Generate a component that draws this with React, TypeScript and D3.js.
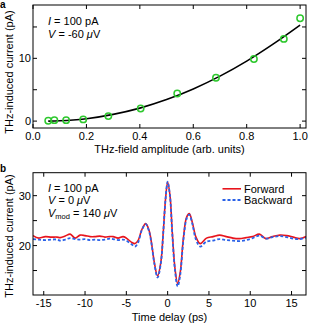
import React from "react";
import * as d3 from "d3";

// Panel a: THz-induced current vs THz-field amplitude
const ampX = [0.057, 0.08, 0.124, 0.188, 0.282, 0.403, 0.54, 0.685, 0.827, 0.939, 1.0];
const ampCurrent = [0.05, 0.15, 0.15, 0.27, 0.8, 2.0, 4.4, 6.9, 9.9, 13.1, 16.4];
const fitAmp = [0.057, 0.1, 0.15, 0.2, 0.3, 0.4, 0.5, 0.6, 0.7, 0.8, 0.9, 1.0];
const fitCurrent = [0.0, 0.05, 0.17, 0.38, 1.07, 2.07, 3.43, 5.13, 7.17, 9.56, 12.3, 15.3];
const ampTicks = [0.0, 0.2, 0.4, 0.6, 0.8, 1.0];
const currentTicksA = [0, 5, 10, 15];
const currentLabelsA = [0, 10];

// Panel b: THz-induced current vs time delay
const delay = [-16.3, -15.6, -14.8, -14.1, -13.4, -13.0, -12.4, -11.8, -11.2, -10.6, -10.0, -9.4, -8.8, -8.2, -7.6, -7.0, -6.6, -6.0, -5.4, -5.0, -4.4, -3.95, -3.55, -3.15, -2.66, -2.26, -1.94, -1.62, -1.22, -0.82, -0.53, -0.25, 0, 0.28, 0.56, 0.89, 1.21, 1.53, 1.9, 2.3, 2.62, 2.98, 3.43, 3.95, 4.7, 5.5, 6.3, 7.1, 7.9, 8.7, 9.5, 10.3, 11.1, 11.9, 12.7, 13.6, 14.4, 15.2, 16.0, 16.75];
const forward = [22.0, 21.5, 21.8, 21.7, 21.7, 21.6, 21.9, 22.3, 21.5, 22.1, 22.0, 21.8, 21.8, 21.9, 21.7, 21.8, 21.8, 21.5, 21.8, 21.5, 20.7, 20.4, 21.1, 23.1, 24.4, 23.1, 20.4, 16.7, 13.9, 16.7, 22.7, 29.4, 32.7, 30.1, 22.7, 15.4, 12.4, 14.7, 21.4, 25.7, 26.4, 24.7, 21.7, 20.4, 21.5, 21.8, 22.1, 21.8, 21.5, 21.4, 21.6, 21.8, 22.3, 21.4, 21.8, 22.1, 22.0, 21.7, 21.4, 21.8];
const backward = [21.3, 21.2, 21.1, 21.2, 21.2, 21.0, 21.2, 21.5, 21.3, 21.2, 21.3, 21.1, 21.2, 21.1, 21.2, 21.4, 21.3, 21.1, 21.2, 21.0, 20.3, 19.8, 20.7, 23.0, 24.3, 22.9, 20.2, 16.5, 13.6, 16.5, 22.6, 29.4, 32.8, 30.0, 22.4, 15.0, 11.8, 14.2, 21.0, 25.4, 26.2, 24.4, 21.2, 19.8, 20.8, 21.0, 21.3, 21.1, 21.0, 20.9, 21.1, 21.5, 22.0, 21.4, 21.7, 21.9, 21.7, 21.4, 21.3, 21.6];
const delayTicks = [-15, -10, -5, 0, 5, 10, 15];
const currentTicksB = [15, 20, 25, 30];
const currentLabelsB = [20, 30];

const FONT = "'Liberation Sans', Arial, Helvetica, sans-serif";
const TL = 4;

function Frame({ x, y, ticksX, ticksY, labelsX, labelsY, fmtX, fmtY, left, right, top, bottom }: any) {
  return (
    <g>
      {ticksX.map((t: number, i: number) => (
        <g key={"x" + i}>
          <line x1={x(t)} x2={x(t)} y1={bottom} y2={bottom - TL} stroke="#000" strokeWidth={1} />
          <line x1={x(t)} x2={x(t)} y1={top} y2={top + TL} stroke="#000" strokeWidth={1} />
        </g>
      ))}
      {labelsX.map((t: number, i: number) => (
        <text key={"xl" + i} x={x(t)} y={bottom + 12} textAnchor="middle" fontSize={11} fontFamily={FONT}>
          {fmtX(t)}
        </text>
      ))}
      {ticksY.map((t: number, i: number) => (
        <g key={"y" + i}>
          <line x1={left} x2={left + TL} y1={y(t)} y2={y(t)} stroke="#000" strokeWidth={1} />
          <line x1={right} x2={right - TL} y1={y(t)} y2={y(t)} stroke="#000" strokeWidth={1} />
        </g>
      ))}
      {labelsY.map((t: number, i: number) => (
        <text key={"yl" + i} x={left - 2} y={y(t) + 4} textAnchor="end" fontSize={11} fontFamily={FONT}>
          {fmtY(t)}
        </text>
      ))}
      <rect x={left} y={top} width={right - left} height={bottom - top} fill="none" stroke="#000" strokeWidth={1} />
    </g>
  );
}

export default function App() {
  const left = 33, right = 306;
  // Panel a
  const aTop = 5, aBottom = 128;
  const xA = d3.scaleLinear().domain([0, 1.022]).range([left, right]);
  const yA = d3.scaleLinear().domain([-1.1, 18.5]).range([aBottom, aTop]);
  const fitLine = d3
    .line<number>()
    .x((_, i) => xA(fitAmp[i]))
    .y((d) => yA(d))
    .curve(d3.curveMonotoneX)(fitCurrent);

  // Panel b
  const bTop = 172.7, bBottom = 295;
  const xB = d3.scaleLinear().domain([-16.3, 16.75]).range([left, right]);
  const yB = d3.scaleLinear().domain([10.1, 34.6]).range([bBottom, bTop]);
  const mk = (vals: number[]) =>
    d3
      .line<number>()
      .x((_, i) => xB(delay[i]))
      .y((d) => yB(d))
      .curve(d3.curveCatmullRom.alpha(0.5))(vals);

  const red = "#e8141c";
  const blue = "#2b62e8";
  const green = "#2ec82e";

  return (
    <svg width={316} height={325} style={{ position: "absolute", left: 0, top: 0, display: "block" }} fontFamily={FONT}>
      <rect width={316} height={325} fill="#fff" />
      {/* Panel a */}
      <text x={0} y={8} fontSize={10} fontWeight="bold">a</text>
      <defs>
        <clipPath id="clipA"><rect x={left} y={aTop} width={right - left} height={aBottom - aTop} /></clipPath>
        <clipPath id="clipB"><rect x={left} y={bTop} width={right - left} height={bBottom - bTop} /></clipPath>
      </defs>
      <path d={fitLine || ""} fill="none" stroke="#000" strokeWidth={1.6} clipPath="url(#clipA)" />
      {ampX.map((v, i) => (
        <circle key={i} cx={xA(v)} cy={yA(ampCurrent[i])} r={3.2} fill="none" stroke={green} strokeWidth={1.5} />
      ))}
      <Frame x={xA} y={yA} ticksX={ampTicks} labelsX={ampTicks} ticksY={currentTicksA} labelsY={currentLabelsA}
        fmtX={(t: number) => t.toFixed(1)} fmtY={(t: number) => String(t)}
        left={left} right={right} top={aTop} bottom={aBottom} />
      <text x={48} y={25} fontSize={11}>
        <tspan fontStyle="italic">I</tspan> = 100 pA
      </text>
      <text x={48} y={37.5} fontSize={11}>
        <tspan fontStyle="italic">V</tspan> = -60 <tspan fontStyle="italic">μ</tspan>V
      </text>
      <text x={(left + right) / 2} y={153} textAnchor="middle" fontSize={11}>THz-field amplitude (arb. units)</text>
      <text transform={`translate(13,72) rotate(-90)`} textAnchor="middle" fontSize={11}>THz-induced current (pA)</text>

      {/* Panel b */}
      <text x={0} y={171.5} fontSize={10} fontWeight="bold">b</text>
      <g clipPath="url(#clipB)">
        <path d={mk(forward) || ""} fill="none" stroke={red} strokeWidth={1.6} />
        <path d={mk(backward) || ""} fill="none" stroke={blue} strokeWidth={1.8} strokeDasharray="3,2" />
      </g>
      <Frame x={xB} y={yB} ticksX={delayTicks} labelsX={delayTicks} ticksY={currentTicksB} labelsY={currentLabelsB}
        fmtX={(t: number) => String(t)} fmtY={(t: number) => String(t)}
        left={left} right={right} top={bTop} bottom={bBottom} />
      <text x={48} y={192.3} fontSize={11}>
        <tspan fontStyle="italic">I</tspan> = 100 pA
      </text>
      <text x={48} y={203.8} fontSize={11}>
        <tspan fontStyle="italic">V</tspan> = 0 <tspan fontStyle="italic">μ</tspan>V
      </text>
      <text x={48} y={216.5} fontSize={11}>
        <tspan fontStyle="italic">V</tspan>
        <tspan fontSize={7.5} dy={2.5}>mod</tspan>
        <tspan dy={-2.5}> = 140 </tspan>
        <tspan fontStyle="italic">μ</tspan>V
      </text>
      <line x1={222.5} x2={241} y1={188.8} y2={188.8} stroke={red} strokeWidth={1.6} />
      <text x={244} y={192.5} fontSize={11}>Forward</text>
      <line x1={222.5} x2={241} y1={200} y2={200} stroke={blue} strokeWidth={1.8} strokeDasharray="3,2" />
      <text x={244} y={203.7} fontSize={11}>Backward</text>
      <text x={(left + right) / 2} y={321} textAnchor="middle" fontSize={11}>Time delay (ps)</text>
      <text transform={`translate(13,236) rotate(-90)`} textAnchor="middle" fontSize={11}>THz-induced current (pA)</text>
    </svg>
  );
}
